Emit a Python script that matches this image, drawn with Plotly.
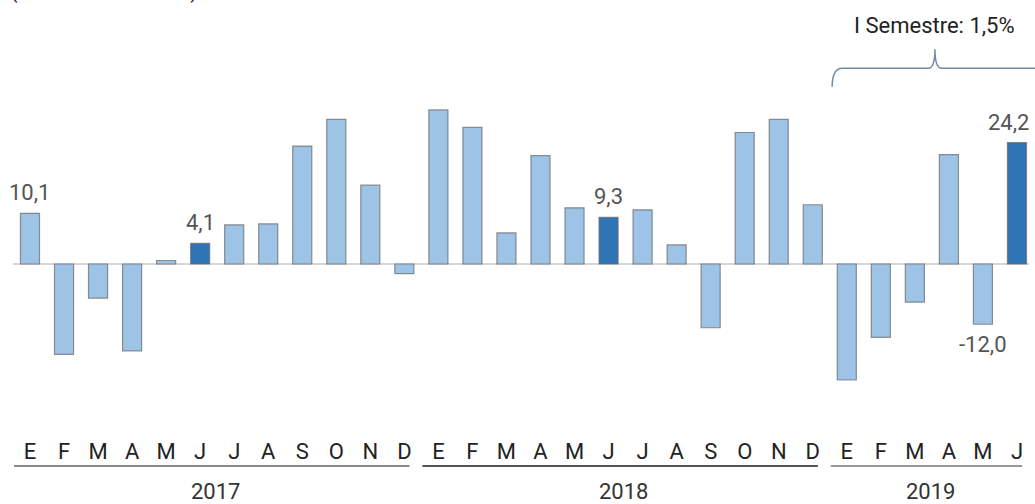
import plotly.graph_objects as go

months = ["E", "F", "M", "A", "M", "J", "J", "A", "S", "O", "N", "D",
          "E", "F", "M", "A", "M", "J", "J", "A", "S", "O", "N", "D",
          "E", "F", "M", "A", "M", "J"]
years = ["2017", "2018", "2019"]
year_counts = [12, 12, 6]
values = [10.1, -18.0, -6.8, -17.3, 0.7, 4.1, 7.8, 8.0, 23.5, 28.8, 15.7, -1.9,
          30.7, 27.2, 6.2, 21.6, 11.2, 9.3, 10.8, 3.8, -12.7, 26.2, 28.8, 11.8,
          -23.1, -14.6, -7.6, 21.8, -12.0, 24.2]
highlight = [5, 17, 29]
labelled = [0, 5, 17, 28, 29]
semester_text = "I Semestre: 1,5%"
unit_text = "(Variación anual %)"

LIGHT = "#9DC3E6"
DARK = "#2E75B6"

x = list(range(len(values)))
colors = [DARK if i in highlight else LIGHT for i in x]

fig = go.Figure()
fig.add_trace(go.Bar(
    x=x, y=values,
    marker=dict(color=colors, line=dict(color="rgba(110,110,110,0.75)", width=1.2)),
    hoverinfo="skip",
))

annotations = []
for i in labelled:
    v = values[i]
    annotations.append(dict(
        xref="x", yref="y", x=i, y=v, showarrow=False,
        text=f"{v:.1f}".replace(".", ","),
        yanchor="bottom" if v >= 0 else "top",
        yshift=6 if v >= 0 else -6,
        xshift=-8 if i == len(values) - 1 else 0,
        font=dict(family="Roboto", size=22, color="#555555")))

shapes = []
shapes.append(dict(type="line", xref="x", yref="y", x0=-0.5, x1=29.35, y0=0, y1=0,
                   line=dict(color="#c8c8c8", width=1.5), layer="below"))

start = 0
ucolors = ["#8a8a8a", "#555555", "#9a9a9a"]
for k, (yr, n) in enumerate(zip(years, year_counts)):
    end = start + n - 1
    shapes.append(dict(type="line", xref="x", yref="paper",
                       x0=start - 0.47, x1=end + 0.15, y0=-0.0688, y1=-0.0688,
                       line=dict(color=ucolors[k], width=2)))
    annotations.append(dict(xref="x", yref="paper", x=(start + end) / 2 - 0.05, y=-0.1284,
                            text=yr, showarrow=False, yanchor="middle",
                            font=dict(family="Roboto", size=22, color="#333333")))
    start = end + 1

bx0, bxm, bx1 = 23.57, 26.59, 29.6
by0, by1, byp = 35.3, 39.0, 42.8
path = (f"M {bx0},{by0} Q {bx0},{by1} {bx0+0.3},{by1} L {bxm-0.2},{by1} "
        f"Q {bxm},{by1} {bxm},{byp} Q {bxm},{by1} {bxm+0.2},{by1} L {bx1},{by1}")
shapes.append(dict(type="path", xref="x", yref="y", path=path,
                   line=dict(color="#6f8aa6", width=1.5)))
annotations.append(dict(xref="x", yref="y", x=bxm, y=47.6, text=semester_text,
                        showarrow=False, yanchor="middle",
                        font=dict(family="Roboto", size=22, color="#222222")))
annotations.append(dict(xref="paper", yref="paper", x=0.008, xanchor="left",
                        y=1.0, yshift=-6, yanchor="bottom", text=unit_text, showarrow=False,
                        font=dict(family="Roboto", size=22, color="#333333")))

fig.update_layout(
    width=1035, height=504,
    margin=dict(l=0, r=0, t=0, b=68),
    paper_bgcolor="white", plot_bgcolor="white",
    showlegend=False, bargap=0.44,
    shapes=shapes, annotations=annotations,
    xaxis=dict(range=[-0.881, 29.53], tickmode="array", tickvals=x, ticktext=months,
               showgrid=False, zeroline=False, showline=False, ticks="",
               tickfont=dict(family="Roboto", size=22, color="#222222")),
    yaxis=dict(range=[-34.26, 52.59], visible=False, showgrid=False, zeroline=False),
)

fig.write_html("out.html", config={"displayModeBar": False},
               post_script="document.body.style.margin='0';document.body.style.padding='0';document.body.style.overflow='hidden';")
